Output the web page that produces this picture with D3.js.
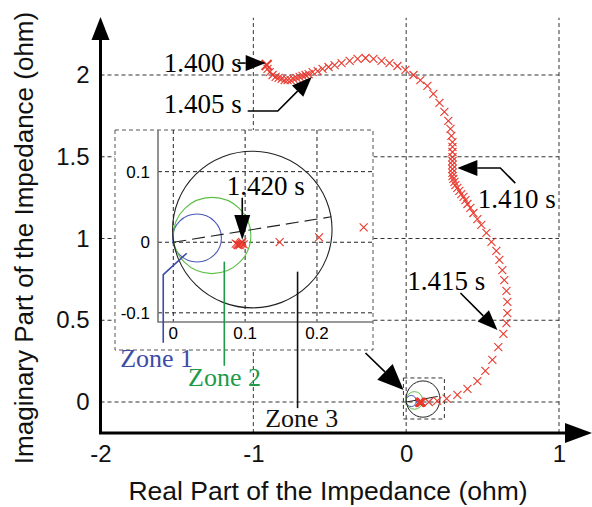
<!DOCTYPE html>
<html>
<head>
<meta charset="utf-8">
<script src="https://cdn.jsdelivr.net/npm/d3@7"></script>
<style>
  body { margin: 0; background: #fff; }
  svg { display: block; }
</style>
</head>
<body>
<div id="chart"></div>
<script>
const width = 592;
const height = 507;

// impedance trajectory (ohm), one cross per sample
const trajX = [-0.913,-0.907,-0.893,-0.874,-0.854,-0.835,-0.815,-0.795,-0.776,-0.756,
	-0.737,-0.717,-0.697,-0.678,-0.658,-0.638,-0.612,-0.579,-0.547,-0.508,
	-0.468,-0.423,-0.370,-0.318,-0.266,-0.214,-0.161,-0.109,-0.057,-0.005,
	0.048,0.093,0.139,0.178,0.218,0.250,0.276,0.290,0.296,0.303,
	0.303,0.303,0.303,0.303,0.303,0.303,0.303,0.303,0.309,0.316,
	0.322,0.335,0.348,0.361,0.375,0.388,0.401,0.420,0.440,0.466,
	0.492,0.525,0.558,0.590,0.610,0.629,0.642,0.656,0.662,0.662,
	0.656,0.636,0.603,0.564,0.518,0.466,0.401,0.335,0.265,0.203,
	0.148,0.098,0.095,0.092,0.096,0.089,0.094,0.090,0.087,0.093];
const trajY = [2.061,2.037,2.018,2.000,1.988,1.982,1.976,1.969,1.969,1.969,
	1.976,1.982,1.988,1.994,2.000,2.006,2.018,2.024,2.037,2.049,
	2.061,2.073,2.086,2.098,2.104,2.098,2.086,2.073,2.055,2.031,
	2.000,1.969,1.933,1.884,1.829,1.774,1.719,1.670,1.627,1.590,
	1.560,1.529,1.498,1.474,1.450,1.425,1.401,1.382,1.364,1.346,
	1.327,1.309,1.291,1.272,1.254,1.235,1.211,1.187,1.156,1.119,
	1.083,1.034,0.979,0.924,0.869,0.807,0.746,0.679,0.612,0.544,
	0.483,0.416,0.336,0.257,0.190,0.128,0.080,0.043,0.021,0.007,
	0.000,-0.003,-0.002,-0.004,0.000,-0.003,-0.001,-0.004,-0.002,-0.003];

// mho zones
const zoneNames = ['Zone 1', 'Zone 2', 'Zone 3'];
const zoneCx = [0.033, 0.054, 0.110];
const zoneCy = [0.006, 0.0095, 0.018];
const zoneR = [0.034, 0.054, 0.111];
const zoneColors = ['#4a58b8', '#5cbf45', '#222'];
const zoneTextColors = ['#3d4ca6', '#1e9a48', '#111'];
const lineEnd = [0.22, 0.036]; // characteristic line end

// ticks
const xTicks = [-2, -1, 0, 1];
const yTicks = [0, 0.5, 1, 1.5, 2];
const xTicksIn = [0, 0.1, 0.2];
const yTicksIn = [-0.1, 0, 0.1];

// time labels (main axes)
const timeLabels = ['1.400 s', '1.405 s', '1.410 s', '1.415 s'];
const timeLabelX = [-1.586, -1.586, 0.468, 0.007];
const timeLabelY = [2.018, 1.768, 1.187, 0.685];
const timeArrows = [
	[[-1.103, 2.073], [-0.919, 2.073]],
	[[-1.037, 1.780], [-0.840, 1.780], [-0.618, 1.988]],
	[[0.714, 1.339], [0.616, 1.431], [0.335, 1.431]],
	[[0.355, 0.667], [0.597, 0.440]],
];
const zoomBox = [-0.018, 0.25, -0.104, 0.147];
const zoomArrow = [[-0.266, 0.300], [-0.017, 0.073]];

// inset annotations
const insetLabel = '1.420 s';
const insetLabelPos = [0.0745, 0.067];
const insetArrow = [[0.096, 0.063], [0.096, 0.003]];
const zoneLeaders = [
	[[0.0187, -0.0156], [-0.014, -0.046], [-0.014, -0.1425]],
	[[0.071, -0.0275], [0.071, -0.175]],
	[[0.173, -0.0417], [0.173, -0.235]],
];
const zoneLabelX = [-0.074, 0.0205, 0.128];
const zoneLabelY = [-0.177, -0.2035, -0.2616];

const svg = d3.select('#chart').append('svg').attr('width', width).attr('height', height);

const x = d3.scaleLinear().domain([-2, 1]).range([100.5, 559]);
const y = d3.scaleLinear().domain([0, 2]).range([402, 75]);
const yBottom = -0.19;
const yTop = 2.35;

const crossPath = (s) => `M${-s},${-s}L${s},${s}M${-s},${s}L${s},${-s}`;
const red = '#e8392e';

function arrow(g, pts, headLen, headHalf, color) {
	const n = pts.length;
	const [x1, y1] = pts[n - 2];
	const [x2, y2] = pts[n - 1];
	const a = Math.atan2(y2 - y1, x2 - x1);
	const bx = x2 - headLen * Math.cos(a);
	const by = y2 - headLen * Math.sin(a);
	const linePts = pts.slice(0, n - 1).concat([[bx, by]]);
	g.append('path')
		.attr('d', d3.line()(linePts))
		.attr('fill', 'none')
		.attr('stroke', color || '#000')
		.attr('stroke-width', 1.6);
	g.append('path')
		.attr('d', d3.line()([
			[x2, y2],
			[bx + headHalf * Math.sin(a), by - headHalf * Math.cos(a)],
			[bx - headHalf * Math.sin(a), by + headHalf * Math.cos(a)],
		]) + 'Z')
		.attr('fill', color || '#000');
}

// MAIN GRID ================================================================
const grid = svg.append('g').attr('stroke', '#333').attr('stroke-width', 1).attr('stroke-dasharray', '4,3');
grid.selectAll('.vg')
	.data(xTicks.slice(1))
	.join('line')
	.attr('x1', (d) => x(d)).attr('x2', (d) => x(d))
	.attr('y1', y(yBottom)).attr('y2', y(yTop));
grid.selectAll('.hg')
	.data(yTicks)
	.join('line')
	.attr('x1', x(-2)).attr('x2', x(1))
	.attr('y1', (d) => y(d)).attr('y2', (d) => y(d));

// zoom box + small zones at main scale
svg.append('rect')
	.attr('x', x(zoomBox[0]))
	.attr('y', y(zoomBox[3]))
	.attr('width', x(zoomBox[1]) - x(zoomBox[0]))
	.attr('height', y(zoomBox[2]) - y(zoomBox[3]))
	.attr('fill', 'none')
	.attr('stroke', '#333')
	.attr('stroke-dasharray', '4,3');

function drawZones(g, sx, sy, sw) {
	g.selectAll('ellipse')
		.data(zoneNames)
		.join('ellipse')
		.attr('cx', (d, i) => sx(zoneCx[i]))
		.attr('cy', (d, i) => sy(zoneCy[i]))
		.attr('rx', (d, i) => sx(zoneR[i]) - sx(0))
		.attr('ry', (d, i) => sy(0) - sy(zoneR[i]))
		.attr('fill', 'none')
		.attr('stroke', (d, i) => zoneColors[i])
		.attr('stroke-width', sw);
	g.append('line')
		.attr('x1', sx(0)).attr('y1', sy(0))
		.attr('x2', sx(lineEnd[0])).attr('y2', sy(lineEnd[1]))
		.attr('stroke', '#222')
		.attr('stroke-width', sw)
		.attr('stroke-dasharray', '13,6');
}
drawZones(svg.append('g'), x, y, 1);

// trajectory crosses
const traj = trajX.map((d, i) => ({ x: d, y: trajY[i], i: i }));
svg.append('g')
	.selectAll('path')
	.data(traj)
	.join('path')
	.attr('transform', (d) => `translate(${x(d.x)},${y(d.y)})`)
	.attr('d', (d) => crossPath(d.i === 0 ? 5 : 4))
	.attr('stroke', red)
	.attr('stroke-width', (d) => (d.i === 0 || d.i > 80 ? 2 : 1.1))
	.attr('fill', 'none');

// INSET ================================================================
const inL = 158, inR = 373, inT = 130, inB = 322;
const boxL = 115, boxB = 350;
const xi = d3.scaleLinear().domain([-0.0213, 0.278]).range([inL, inR]);
const yi = d3.scaleLinear().domain([-0.113, 0.159]).range([inB, inT]);

const inset = svg.append('g');
inset.append('rect')
	.attr('x', boxL).attr('y', inT)
	.attr('width', inR - boxL).attr('height', boxB - inT)
	.attr('fill', '#fff')
	.attr('stroke', '#555')
	.attr('stroke-dasharray', '4,3');

svg.append('clipPath').attr('id', 'inclip')
	.append('rect').attr('x', inL).attr('y', inT).attr('width', inR - inL).attr('height', inB - inT);

const ig = inset.append('g').attr('stroke', '#222').attr('stroke-dasharray', '4,3');
ig.selectAll('.v')
	.data(xTicksIn)
	.join('line')
	.attr('x1', (d) => xi(d)).attr('x2', (d) => xi(d))
	.attr('y1', inT).attr('y2', inB);
ig.selectAll('.h')
	.data(yTicksIn)
	.join('line')
	.attr('x1', inL).attr('x2', inR)
	.attr('y1', (d) => yi(d)).attr('y2', (d) => yi(d));

const inData = inset.append('g').attr('clip-path', 'url(#inclip)');
drawZones(inData, xi, yi, 1.1);
inData.append('g')
	.selectAll('path')
	.data(traj)
	.join('path')
	.attr('transform', (d) => `translate(${xi(d.x)},${yi(d.y)})`)
	.attr('d', crossPath(4))
	.attr('stroke', red)
	.attr('stroke-width', 1.1)
	.attr('fill', 'none');

// inset axis lines
inset.append('path')
	.attr('d', `M${inL},${inT}V${inB}H${inR}`)
	.attr('fill', 'none')
	.attr('stroke', '#777')
	.attr('stroke-width', 1.6);

inset.selectAll('.xt')
	.data(xTicksIn)
	.join('text')
	.attr('x', (d) => xi(d))
	.attr('y', 339)
	.attr('text-anchor', 'middle')
	.style('font-family', 'Liberation Sans, Arial, sans-serif')
	.style('font-size', '17px')
	.text((d) => String(d));
inset.selectAll('.yt')
	.data(yTicksIn)
	.join('text')
	.attr('x', 150)
	.attr('y', (d) => yi(d) + 6)
	.attr('text-anchor', 'end')
	.style('font-family', 'Liberation Sans, Arial, sans-serif')
	.style('font-size', '17px')
	.text((d) => String(d));

// inset annotations
const ann = svg.append('g');
ann.append('text')
	.attr('x', xi(insetLabelPos[0]))
	.attr('y', yi(insetLabelPos[1]))
	.style('font-family', 'Liberation Serif, Times New Roman, serif')
	.style('font-size', '27px')
	.text(insetLabel);
arrow(ann, insetArrow.map((p) => [xi(p[0]), yi(p[1])]), 25, 8);

zoneLeaders.forEach((pts, i) => {
	ann.append('path')
		.attr('d', d3.line()(pts.map((p) => [xi(p[0]), yi(p[1])])))
		.attr('fill', 'none')
		.attr('stroke', zoneTextColors[i])
		.attr('stroke-width', 1.6);
	ann.append('text')
		.attr('x', xi(zoneLabelX[i]))
		.attr('y', yi(zoneLabelY[i]))
		.attr('fill', zoneTextColors[i])
		.style('font-family', 'Liberation Serif, Times New Roman, serif')
		.style('font-size', '26px')
		.text(zoneNames[i]);
});

// time labels
timeLabels.forEach((t, i) => {
	ann.append('text')
		.attr('x', x(timeLabelX[i]))
		.attr('y', y(timeLabelY[i]))
		.style('font-family', 'Liberation Serif, Times New Roman, serif')
		.style('font-size', '27px')
		.text(t);
	arrow(ann, timeArrows[i].map((p) => [x(p[0]), y(p[1])]), 20, 8);
});
arrow(ann, zoomArrow.map((p) => [x(p[0]), y(p[1])]), 26, 11);

// AXES ================================================================
const axisG = svg.append('g');
axisG.append('path')
	.attr('d', `M${x(-2)},24V${y(yBottom)}H572`)
	.attr('fill', 'none')
	.attr('stroke', '#000')
	.attr('stroke-width', 3);
axisG.append('path')
	.attr('d', `M${x(-2)},17L${x(-2) + 9},40L${x(-2) - 9},40Z`)
	.attr('fill', '#000');
axisG.append('path')
	.attr('d', `M592,${y(yBottom)}L565,${y(yBottom) - 10}L565,${y(yBottom) + 10}Z`)
	.attr('fill', '#000');

const xAxis = svg.append('g')
	.attr('transform', `translate(0,${y(yBottom)})`)
	.call(d3.axisBottom(x).tickValues(xTicks).tickSize(0).tickPadding(12).tickFormat((d) => String(d)));
xAxis.select('.domain').remove();
xAxis.selectAll('text')
	.attr('dy', '0.71em')
	.style('font-family', 'Liberation Sans, Arial, sans-serif')
	.style('font-size', '24px')
	.attr('fill', '#111');

const yAxis = svg.append('g')
	.attr('transform', `translate(${x(-2)},0)`)
	.call(d3.axisLeft(y).tickValues(yTicks).tickSize(0).tickPadding(11).tickFormat((d) => String(d)));
yAxis.select('.domain').remove();
yAxis.selectAll('text')
	.style('font-family', 'Liberation Sans, Arial, sans-serif')
	.style('font-size', '24px')
	.attr('fill', '#111');

svg.append('text')
	.attr('x', 328)
	.attr('y', 500)
	.attr('text-anchor', 'middle')
	.style('font-family', 'Liberation Sans, Arial, sans-serif')
	.style('font-size', '26.5px')
	.attr('fill', '#111')
	.text('Real Part of the Impedance (ohm)');

svg.append('text')
	.attr('transform', 'translate(33,238) rotate(-90)')
	.attr('text-anchor', 'middle')
	.style('font-family', 'Liberation Sans, Arial, sans-serif')
	.style('font-size', '26px')
	.attr('fill', '#111')
	.text('Imaginary Part of the Impedance (ohm)');
</script>
</body>
</html>
